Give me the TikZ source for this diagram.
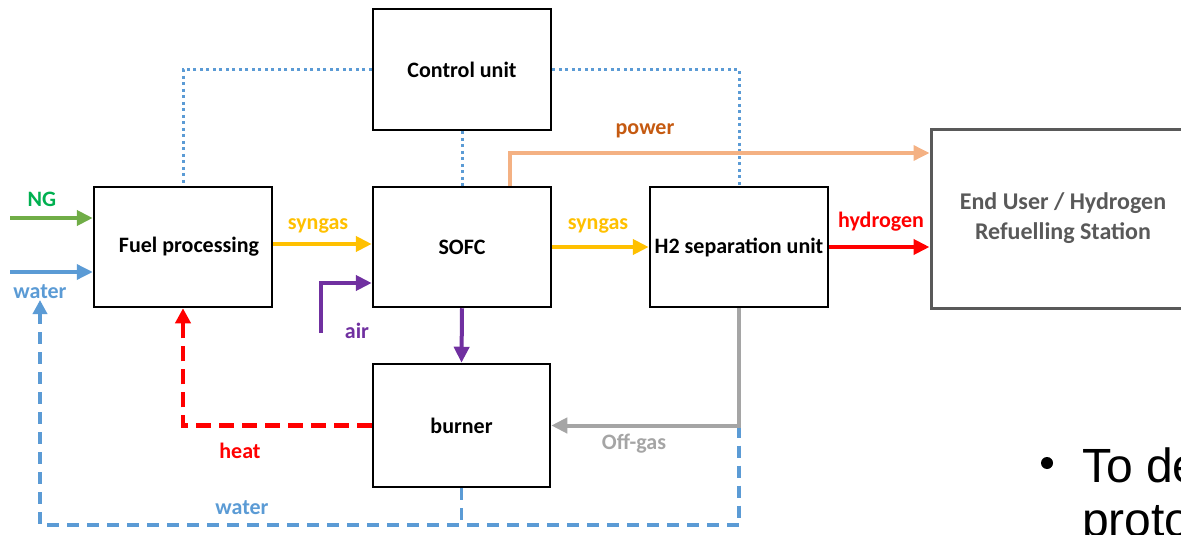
\documentclass[tikz,border=0pt]{standalone}
\usepackage{fontspec}
\setmainfont{Carlito}
\newfontfamily\bulletfont{Liberation Sans}
\usetikzlibrary{arrows.meta}
\definecolor{cgreen}{RGB}{112,173,71}
\definecolor{cgreentxt}{RGB}{0,176,80}
\definecolor{cblue}{RGB}{91,155,213}
\definecolor{cyellow}{RGB}{255,192,0}
\definecolor{cred}{RGB}{255,0,0}
\definecolor{cpurple}{RGB}{112,48,160}
\definecolor{cgray}{RGB}{165,165,165}
\definecolor{cpow}{RGB}{244,177,131}
\definecolor{cpowtxt}{RGB}{197,90,17}
\definecolor{cdark}{RGB}{89,89,89}
\tikzset{
  box/.style={draw=black,line width=2.5pt,minimum width=178pt,minimum height=120pt,
    inner sep=0pt,font=\fontsize{22}{24}\selectfont\bfseries},
  flow/.style={line width=4pt,-{Triangle[length=16pt,width=15pt]}},
  lbl/.style={font=\fontsize{22}{24}\selectfont\bfseries,inner sep=0pt},
  ctrl/.style={cblue,line width=3pt,dash pattern=on 3pt off 3.5pt},
  wdash/.style={cblue,line width=3.5pt,dash pattern=on 12pt off 8pt},
}
\begin{document}
\begin{tikzpicture}[x=1pt,y=-1pt]
\useasboundingbox (0,0) rectangle (1181,535);
% boxes
\node[box] (fp) at (183,247) {\hspace*{12pt}Fuel processing};
\node[box] (sofc) at (462,247) {SOFC};
\node[box] (h2) at (739,247) {H2 separation unit};
\node[box,minimum height=121pt] (ctrl) at (462,69.5) {Control unit};
\node[box,minimum height=123pt,minimum width=177pt] (burner) at (461.5,425.5) {burner};
\node[draw=cdark,line width=3pt,minimum width=264pt,minimum height=179pt,inner sep=0pt,
  align=center,text=cdark,font=\fontsize{24}{30}\selectfont\bfseries] (eu) at (1063,218.5)
  {End User / Hydrogen\\Refuelling Station};
% coordinates
\coordinate (ngs) at (10,218);
\coordinate (ws) at (10,272);
\coordinate (airs) at (321,333);
\coordinate (airc) at (321,283);
\coordinate (pw) at (510,153);
\coordinate (wb) at (40,525);
\coordinate (wtop) at (40,300);
\coordinate (ogc) at (h2.south |- burner.east);
\coordinate (fpr) at (272,244);
% control lines
\draw[ctrl] (ctrl.west) -| (fp.north);
\draw[ctrl] (ctrl.east) -| (h2.north);
\draw[ctrl] (ctrl.south) -- (sofc.north);
% water recycle
\draw[wdash] (burner.south) -- (burner.south |- wb);
\draw[wdash,-{Triangle[length=14pt,width=14pt]}] (ogc) -- (ogc |- wb) -- (wb) -- (wtop);
% flows
\draw[flow,cgreen] (ngs) -- (fp.west |- ngs);
\draw[flow,cblue,line width=3.5pt] (ws) -- (fp.west |- ws);
\draw[flow,cyellow] (fp.east |- fpr) -- (sofc.west |- fpr);
\draw[flow,cyellow] (sofc.east) -- (h2.west);
\draw[flow,cred] (h2.east) -- (eu.west |- h2.east);
\draw[flow,cpurple] (airs) -- (airc) -- (sofc.west |- airc);
\draw[flow,cpurple] (sofc.south) -- (burner.north);
\draw[cred,line width=4.5pt,dash pattern=on 15pt off 8pt,-{Triangle[length=15pt,width=15pt]}] (burner.west) -| (fp.south);
\draw[flow,cgray] (h2.south) |- (burner.east);
\draw[flow,cpow,line width=3.5pt] (sofc.north -| pw) |- (eu.west |- pw);
% labels
\node[lbl,text=cgreentxt] (lng) at (42,199) {NG};
\node[lbl,text=cblue] (lw1) at (40,292) {water};
\node[lbl,text=cyellow] (ls1) at (318,226) {syngas};
\node[lbl,text=cyellow] (ls2) at (598,226) {syngas};
\node[lbl,text=cred] (lh) at (881,222) {hydrogen};
\node[lbl,text=cpurple] (la) at (357,331) {air};
\node[lbl,text=cred] (lheat) at (240,451) {heat};
\node[lbl,text=cgray] (log) at (634,444) {Off-gas};
\node[lbl,text=cpowtxt] (lp) at (645,131) {power};
\node[lbl,text=cblue] (lw2) at (242,508) {water};
% bullet text (cropped at the picture's edge, as in the reference)
\node[circle,fill=black,minimum size=12pt,inner sep=0pt] (bul) at (1047,463) {};
\node[anchor=base west,inner sep=0pt,font=\bulletfont\fontsize{48}{50}\selectfont] (bt1) at (1082,482) {To de};
\node[anchor=base west,inner sep=0pt,font=\bulletfont\fontsize{48}{50}\selectfont] (bt2) at (1082,536) {proto};
\end{tikzpicture}
\end{document}
